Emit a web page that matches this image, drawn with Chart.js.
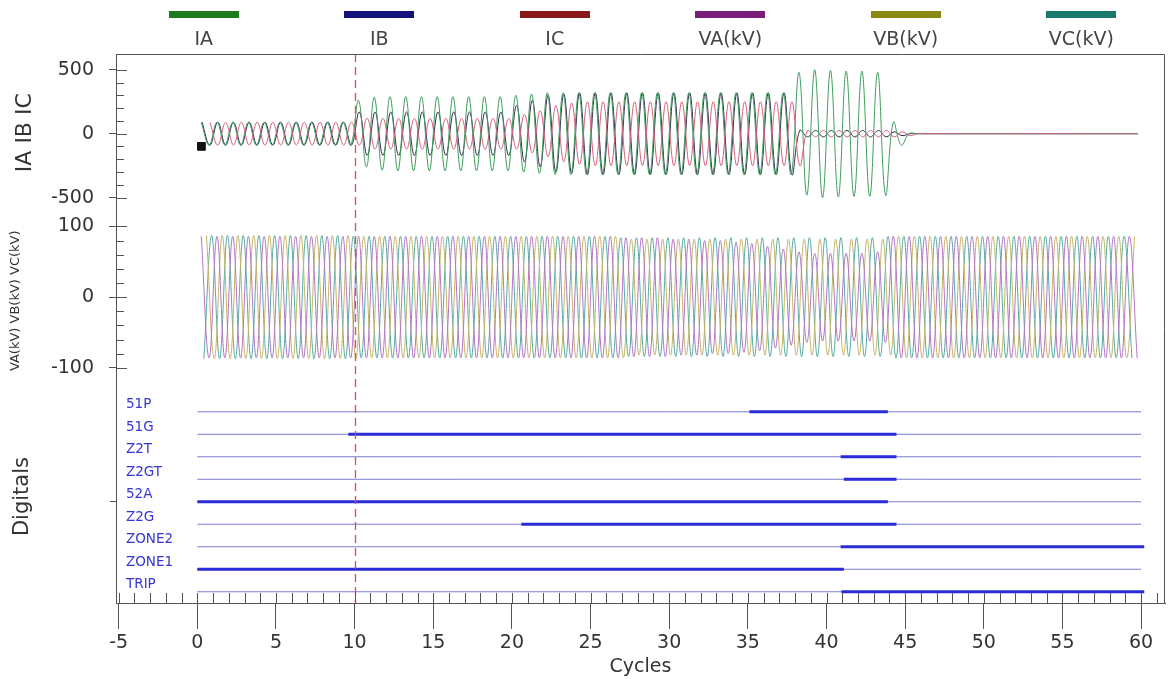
<!DOCTYPE html>
<html>
<head>
<meta charset="utf-8">
<title>Oscillography</title>
<script src="https://cdn.jsdelivr.net/npm/chart.js@4.4.1/dist/chart.umd.min.js"></script>
<style>
  html, body { margin: 0; padding: 0; background: #fff; }
  #wrap { width: 1173px; height: 679px; }
</style>
</head>
<body>
<div id="wrap"><canvas id="osc" width="1173" height="679"></canvas></div>
<script>
// ---- values ----
const seriesNames = ['IA', 'IB', 'IC', 'VA(kV)', 'VB(kV)', 'VC(kV)'];
const legendColors = ['#1d7a1d', '#12127a', '#8a1a1a', '#7a1c7a', '#8a8a12', '#18786c'];
const traceColors = ['#3f9c5c', '#2c2c4a', '#d8607e', '#b374c2', '#c4b468', '#54aaa2'];

// peak value of each cycle, cycles 0..59
const iaAmp = [
  90, 90, 90, 90, 90, 90, 90, 90, 90, 90,
  260, 285, 290, 290, 290, 290, 290, 290, 290, 290,
  300, 310, 320, 320, 320, 320, 320, 320, 320, 320,
  320, 320, 320, 320, 320, 320, 320, 320,
  480, 500, 495, 490, 490, 480,
  90,
  0, 0, 0, 0, 0, 0, 0, 0, 0, 0, 0, 0, 0, 0, 0
];
const ibAmp = [
  90, 90, 90, 90, 90, 90, 90, 90, 90, 90,
  170, 170, 170, 170, 170, 170, 170, 170, 170, 170,
  220, 260, 300, 310, 320, 320, 320, 320, 320, 320,
  320, 320, 320, 320, 320, 320, 320, 320,
  25, 25, 25, 25, 25, 25,
  15,
  0, 0, 0, 0, 0, 0, 0, 0, 0, 0, 0, 0, 0, 0, 0
];
const icAmp = [
  90, 90, 90, 90, 90, 90, 90, 90, 90, 90,
  120, 120, 120, 120, 120, 120, 120, 120, 120, 120,
  150, 180, 220, 240, 250, 250, 250, 250, 250, 250,
  250, 250, 250, 250, 250, 250, 250, 250,
  25, 25, 25, 25, 25, 25,
  15,
  0, 0, 0, 0, 0, 0, 0, 0, 0, 0, 0, 0, 0, 0, 0
];
const vaAmp = [
  86, 86, 86, 86, 86, 86, 86, 86, 86, 86,
  86, 86, 86, 86, 86, 86, 86, 86, 86, 86,
  86, 86, 86, 86, 86, 86, 86, 84, 84, 84,
  82, 82, 80, 80, 78, 76, 72, 68,
  64, 62, 62, 62, 62, 64,
  86,
  86, 86, 86, 86, 86, 86, 86, 86, 86, 86, 86, 86, 86, 86, 86
];
const vbAmp = [
  87, 87, 87, 87, 87, 87, 87, 87, 87, 87,
  86, 86, 86, 86, 86, 86, 86, 86, 86, 86,
  86, 86, 86, 86, 86, 86, 86, 82, 82, 82,
  82, 82, 82, 82, 82, 82, 82, 82,
  82, 82, 82, 82, 82, 82,
  86,
  86, 86, 86, 86, 86, 86, 86, 86, 86, 86, 86, 86, 86, 86, 86
];
const vcAmp = [
  87, 87, 87, 87, 87, 87, 87, 87, 87, 87,
  86, 86, 86, 86, 86, 86, 86, 86, 86, 86,
  86, 86, 86, 86, 86, 86, 86, 84, 84, 84,
  84, 84, 84, 84, 84, 84, 84, 84,
  84, 84, 84, 84, 84, 84,
  86,
  86, 86, 86, 86, 86, 86, 86, 86, 86, 86, 86, 86, 86, 86, 86
];
// where in the cycle each trace peaks (fraction of a cycle)
const phaseShift = [0, 0.05, 0.55, 0, 1 / 3, -1 / 3];

const digitalNames = ['51P', '51G', 'Z2T', 'Z2GT', '52A', 'Z2G', 'ZONE2', 'ZONE1', 'TRIP'];
const digitalOn = [35.1, 9.6, 40.9, 41.1, 0, 20.6, 40.9, 0, 40.95];
const digitalOff = [43.9, 44.45, 44.45, 44.45, 43.9, 44.45, 60.2, 41.1, 60.2];

const cycleTicks = [-5, 0, 5, 10, 15, 20, 25, 30, 35, 40, 45, 50, 55, 60];
const currentTicks = [-500, 0, 500];
const voltageTicks = [-100, 0, 100];
const faultCycle = 10;
const recordStart = 0;
const recordEnd = 60;
const cursorX = [0.26];
const cursorY = [-99];

// ---- build datasets ----
function wave(amp, shift) {
  const pts = [];
  amp.forEach((a, k) => {
    pts.push({ x: k + shift + 0.25, y: a });
    pts.push({ x: k + shift + 0.75, y: -a });
  });
  return pts.filter(p => p.x >= recordStart + 0.1 && p.x <= recordEnd + 0.05);
}

const amps = [iaAmp, ibAmp, icAmp, vaAmp, vbAmp, vcAmp];
const datasets = [];

amps.forEach((amp, i) => {
  datasets.push({
    label: seriesNames[i],
    data: wave(amp, phaseShift[i]),
    yAxisID: i < 3 ? 'yI' : 'yV',
    borderColor: traceColors[i],
    borderWidth: 1,
    pointRadius: 0,
    tension: 0.4,
    order: i === 2 ? -1 : i
  });
});

datasets.push({
  type: 'scatter',
  label: 'cursor',
  data: cursorX.map((x, i) => ({ x: x, y: cursorY[i] })),
  yAxisID: 'yI',
  pointStyle: 'rect',
  pointRadius: 5.5,
  backgroundColor: '#111',
  borderColor: '#111',
  order: -2
});

const lastRow = digitalNames.length - 1;
digitalNames.forEach((name, i) => {
  const row = lastRow - i;
  datasets.push({
    label: name,
    data: [{ x: recordStart, y: row }, { x: recordEnd, y: row }],
    yAxisID: 'yD',
    borderColor: '#7a7ad2',
    borderWidth: 1,
    pointRadius: 0
  });
  datasets.push({
    label: name + ' on',
    data: [{ x: digitalOn[i], y: row }, { x: digitalOff[i], y: row }],
    yAxisID: 'yD',
    borderColor: '#2a2ad6',
    borderWidth: 3,
    pointRadius: 0,
    order: -3
  });
});

// ---- plugins ----
const topLegend = {
  id: 'topLegend',
  afterDraw(chart) {
    const ctx = chart.ctx;
    const left = chart.chartArea.left;
    const cell = (chart.width - 4 - left) / seriesNames.length;
    ctx.save();
    ctx.font = '19px "DejaVu Sans"';
    ctx.textAlign = 'center';
    ctx.textBaseline = 'middle';
    seriesNames.forEach((name, i) => {
      const cx = left + cell * (i + 0.5);
      ctx.fillStyle = legendColors[i];
      ctx.fillRect(Math.round(cx - 35), 11, 70, 7);
      ctx.fillStyle = '#444';
      ctx.fillText(name, cx, 40);
    });
    ctx.restore();
  }
};

const frameTicks = {
  id: 'frameTicks',
  afterDatasetsDraw(chart) {
    const { ctx, chartArea: a, scales } = chart;
    ctx.save();
    // fault inception marker
    const fx = Math.round(scales.x.getPixelForValue(faultCycle)) + 0.5;
    ctx.strokeStyle = '#e8454d';
    ctx.lineWidth = 1.3;
    ctx.setLineDash([8, 5]);
    ctx.beginPath();
    ctx.moveTo(fx, a.top);
    ctx.lineTo(fx, a.bottom);
    ctx.stroke();
    ctx.setLineDash([]);

    ctx.strokeStyle = '#555';
    ctx.lineWidth = 1;
    ctx.beginPath();
    // top and right of the frame
    ctx.moveTo(a.left, a.top + 0.5);
    ctx.lineTo(a.right - 0.5, a.top + 0.5);
    ctx.lineTo(a.right - 0.5, a.bottom);
    // inner ticks on the analog axes
    [['yI', currentTicks], ['yV', voltageTicks]].forEach(([id, majors]) => {
      const s = scales[id];
      s.ticks.forEach(t => {
        const y = Math.round(s.getPixelForValue(t.value)) + 0.5;
        const len = majors.includes(t.value) ? 11 : 8;
        ctx.moveTo(a.left, y);
        ctx.lineTo(a.left + len, y);
      });
    });
    // one inner tick per cycle on the time axis
    const sx = scales.x;
    for (let c = cycleTicks[0]; c <= cycleTicks[cycleTicks.length - 1] + 1; c++) {
      const x = Math.round(sx.getPixelForValue(c)) + 0.5;
      ctx.moveTo(x, a.bottom);
      ctx.lineTo(x, a.bottom - 10);
    }
    ctx.stroke();
    ctx.restore();
  }
};

// ---- scales ----
const tickFont = { family: 'DejaVu Sans', size: 19 };
const fixWidth = s => { s.width = 116; };

function analogAxis(min, max, step, labelled, weight, title) {
  return {
    type: 'linear',
    position: 'left',
    stack: 'panels',
    stackWeight: weight,
    min: min,
    max: max,
    afterBuildTicks: s => { s.ticks = s.ticks.filter(t => t.value % step === 0); },
    afterFit: fixWidth,
    ticks: {
      stepSize: step,
      autoSkip: false,
      padding: 15,
      color: '#333',
      font: tickFont,
      callback: v => labelled.includes(v) ? String(v) : ''
    },
    grid: {
      drawOnChartArea: false,
      tickLength: 7,
      color: ctx => labelled.includes(ctx.tick.value) ? '#555' : 'rgba(0,0,0,0)'
    },
    border: { color: '#555' },
    title: title
  };
}

const config = {
  type: 'line',
  data: { datasets: datasets },
  plugins: [topLegend, frameTicks],
  options: {
    responsive: false,
    animation: false,
    devicePixelRatio: 1,
    layout: { padding: { top: 54, right: 8, left: 0, bottom: 0 } },
    plugins: { legend: { display: false }, tooltip: { enabled: false } },
    scales: {
      x: {
        type: 'linear',
        position: 'bottom',
        min: -5.17,
        max: 61.52,
        afterBuildTicks: s => { s.ticks = cycleTicks.map(v => ({ value: v })); },
        afterFit: s => { s.height = 76; },
        ticks: { autoSkip: false, maxRotation: 0, padding: 3, color: '#333', font: tickFont },
        grid: { drawOnChartArea: false, tickLength: 26, color: '#555' },
        border: { color: '#555' },
        title: {
          display: true, text: 'Cycles', color: '#333',
          font: { family: 'DejaVu Sans', size: 19 }, padding: { top: 0, bottom: 1 }
        }
      },
      yD: {
        type: 'linear',
        position: 'left',
        stack: 'panels',
        stackWeight: 213,
        min: -0.5,
        max: 8.96,
        afterBuildTicks: s => { s.ticks = digitalNames.map((n, i) => ({ value: lastRow - i })); },
        afterFit: fixWidth,
        ticks: {
          autoSkip: false,
          mirror: true,
          padding: 10,
          labelOffset: -7,
          color: '#3535d6',
          font: { family: 'DejaVu Sans', size: 13.5 },
          callback: v => digitalNames[lastRow - v]
        },
        grid: {
          drawOnChartArea: false,
          tickLength: 6,
          color: ctx => ctx.tick.value === 4 ? '#555' : 'rgba(0,0,0,0)'
        },
        border: { color: '#555' },
        title: {
          display: true, text: 'Digitals', color: '#333',
          font: { family: 'DejaVu Sans', size: 21 }, padding: { top: 10, bottom: 0 }
        }
      },
      yV: analogAxis(-131.5, 121.2, 20, voltageTicks, 179, {
        display: true, text: 'VA(kV) VB(kV) VC(kV)', color: '#333',
        font: { family: 'DejaVu Sans', size: 13 }, padding: { top: 8, bottom: 0 }
      }),
      yI: analogAxis(-607, 623, 100, currentTicks, 157.5, {
        display: true, text: 'IA IB IC', color: '#333',
        font: { family: 'DejaVu Sans', size: 22 }, padding: { top: 12, bottom: 0 }
      })
    }
  }
};

new Chart(document.getElementById('osc'), config);
</script>
</body>
</html>
